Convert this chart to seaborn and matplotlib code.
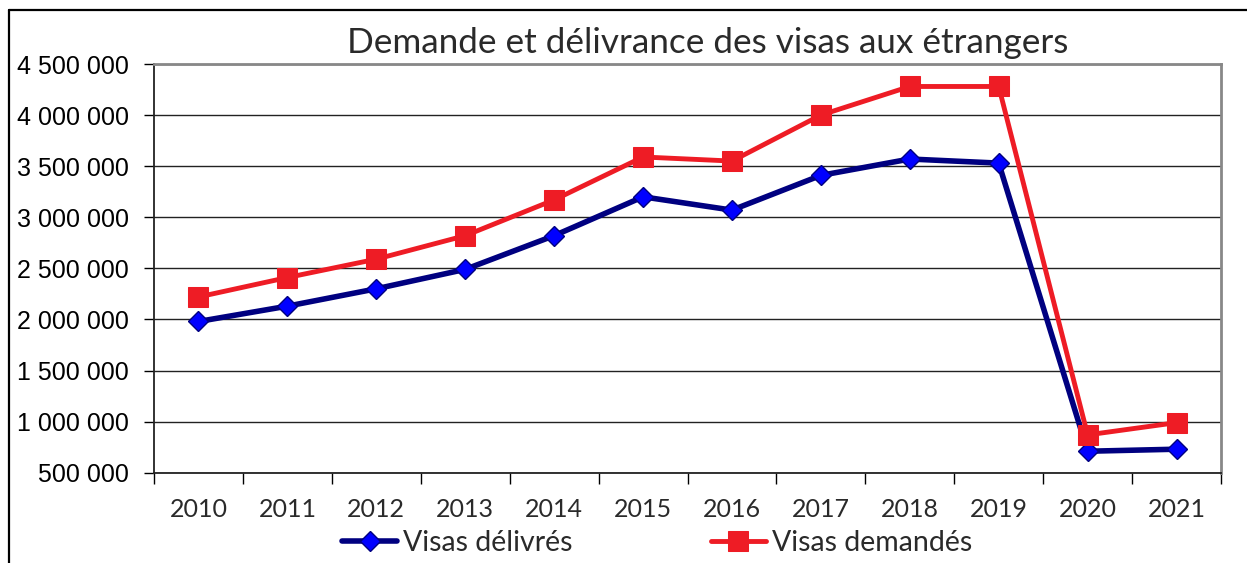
import numpy as np
import pandas as pd
import seaborn as sns
import matplotlib.pyplot as plt
from matplotlib.lines import Line2D
from matplotlib.ticker import FixedLocator, FuncFormatter

years = ['2010', '2011', '2012', '2013', '2014', '2015', '2016', '2017', '2018', '2019', '2020', '2021']
visas_delivres = [1980000, 2130000, 2300000, 2490000, 2820000, 3200000, 3070000, 3410000, 3570000, 3530000, 710000, 730000]
visas_demandes = [2220000, 2410000, 2590000, 2820000, 3170000, 3590000, 3550000, 4000000, 4280000, 4280000, 870000, 990000]
y_ticks = [500000, 1000000, 1500000, 2000000, 2500000, 3000000, 3500000, 4000000, 4500000]

df = pd.DataFrame({'annee': years, 'delivres': visas_delivres, 'demandes': visas_demandes})

sns.set_style("white")
thin_font = 'Lato'
text_col = '#2a2a2a'

fig = plt.figure(figsize=(12.47, 5.63), dpi=100)
ax = fig.add_axes([154 / 1247, 1 - 472.7 / 563, (1221 - 154) / 1247, (472.7 - 64) / 563])

sns.lineplot(data=df, x='annee', y='delivres', ax=ax, color='#000080', linewidth=4,
             marker='D', markersize=10, markerfacecolor='#0000FF', markeredgecolor='#000080',
             markeredgewidth=1, label='Visas délivrés', zorder=3)
sns.lineplot(data=df, x='annee', y='demandes', ax=ax, color='#EE1C25', linewidth=3.5,
             marker='s', markersize=14, markerfacecolor='#EE1C25', markeredgecolor='#EE1C25',
             label='Visas demandés', zorder=4)

ax.set_xlim(-0.5, len(years) - 0.5)
ax.set_ylim(y_ticks[0], y_ticks[-1])
ax.set_xlabel('')
ax.set_ylabel('')

# category axis: tick marks between categories, labels at centres
ax.xaxis.set_major_locator(FixedLocator(np.arange(-0.5, len(years), 1.0)))
ax.xaxis.set_major_formatter(FuncFormatter(lambda v, p: ''))
ax.xaxis.set_minor_locator(FixedLocator(np.arange(len(years))))
ax.xaxis.set_minor_formatter(FuncFormatter(lambda v, p: years[int(round(v))]))
ax.tick_params(axis='x', which='major', direction='out', length=8, width=1, color='black', bottom=True)
ax.tick_params(axis='x', which='minor', length=0, pad=18, labelsize=18, labelcolor=text_col)
for lab in ax.get_xticklabels(minor=True):
    lab.set_fontfamily(thin_font)

ax.set_yticks(y_ticks)
ax.yaxis.set_major_formatter(FuncFormatter(lambda v, p: f"{int(v):,}".replace(',', ' ')))
ax.tick_params(axis='y', direction='out', length=7, width=1, color='black', left=True, pad=11,
               labelsize=18, labelcolor='black')
for lab in ax.get_yticklabels():
    lab.set_fontfamily('Liberation Sans')

ax.grid(axis='y', color='#222222', linewidth=1)
ax.set_axisbelow(True)
for side in ['left', 'bottom']:
    ax.spines[side].set_color('#222222')
    ax.spines[side].set_linewidth(1.3)
for side in ['top', 'right']:
    ax.spines[side].set_color('#888888')
    ax.spines[side].set_linewidth(2)

leg = ax.legend(loc='center', bbox_to_anchor=(657 / 1247, 1 - 543 / 563), bbox_transform=fig.transFigure,
                ncol=2, frameon=False, handlelength=1.95, columnspacing=4.85, handletextpad=0.2,
                prop={'family': thin_font, 'size': 20.5})
for t in leg.get_texts():
    t.set_color(text_col)

fig.text(708 / 1247, 1 - 43 / 563, 'Demande et délivrance des visas aux étrangers', ha='center', va='center',
         fontsize=25.3, fontfamily=thin_font, color=text_col)

# outer chart frame
fig.add_artist(Line2D([9 / 1247, 9 / 1247], [0, 1 - 10 / 563], color='black', linewidth=1.6))
fig.add_artist(Line2D([9 / 1247, 1], [1 - 10 / 563, 1 - 10 / 563], color='black', linewidth=1.6))

fig.savefig('out.png', dpi=100)
